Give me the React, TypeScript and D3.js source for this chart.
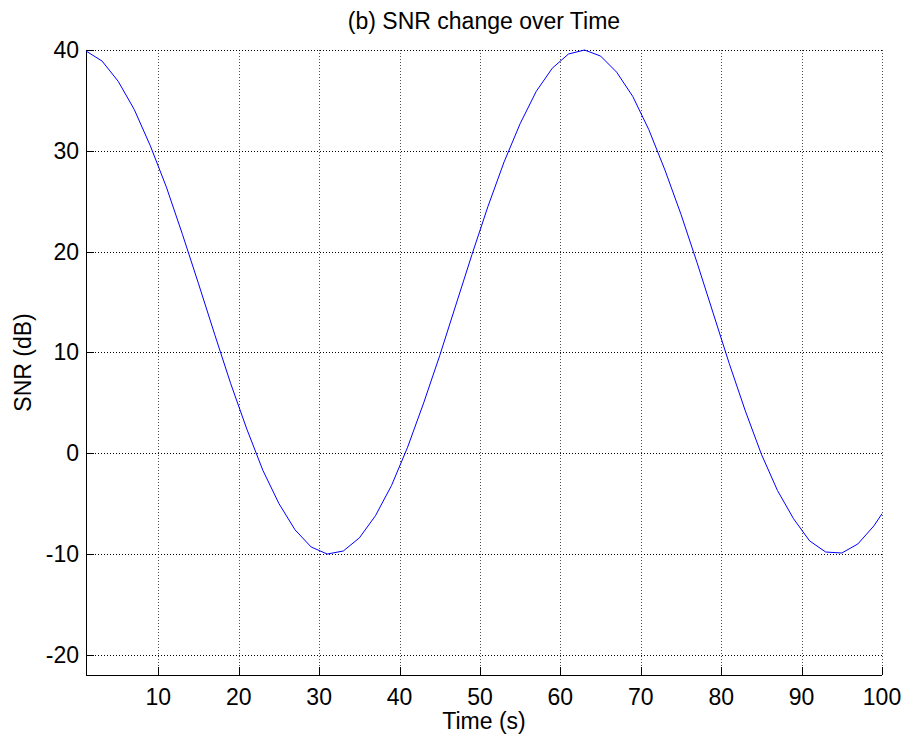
import React from "react";
import * as d3 from "d3";

// time samples (s) and SNR (dB)
const times = [1, 3, 5, 7, 9, 11, 13, 15, 17, 19, 21, 23, 25, 27, 29, 31, 33, 35, 37, 39,
    41, 43, 45, 47, 49, 51, 53, 55, 57, 59, 61, 63, 65, 67, 69, 71, 73, 75, 77, 79,
    81, 83, 85, 87, 89, 91, 93, 95, 97, 99, 100];
const snr = [39.9, 38.9, 36.9, 34.1, 30.5, 26.4, 21.7, 16.8, 11.8, 6.9, 2.4, -1.7, -5.0, -7.6, -9.3, -10.0, -9.7, -8.4, -6.2, -3.2,
    0.6, 5.0, 9.7, 14.7, 19.7, 24.5, 28.9, 32.7, 35.9, 38.2, 39.6, 40.0, 39.4, 37.8, 35.4, 32.1, 28.1, 23.7, 18.9, 13.9,
    8.9, 4.2, -0.1, -3.7, -6.5, -8.7, -9.8, -9.9, -9.0, -7.2, -6.0];

const xTicks = [10, 20, 30, 40, 50, 60, 70, 80, 90, 100];
const yTicks = [-20, -10, 0, 10, 20, 30, 40];

export default function App() {
    const width = 906, height = 743;
    const marginLeft = 86, marginRight = 24, marginTop = 50, marginBottom = 68;
    const font = "'Liberation Sans', Arial, Helvetica, sans-serif";
    const fs = 23;

    const x = d3.scaleLinear().domain([1, 100]).range([marginLeft, width - marginRight]);
    const y = d3.scaleLinear().domain([-22, 40]).range([height - marginBottom, marginTop]);

    const data = times.map((t, i) => ({t, v: snr[i]}));
    const line = d3.line<{t: number, v: number}>()
        .x(d => x(d.t))
        .y(d => y(d.v));

    const x0 = x.range()[0], x1 = x.range()[1];
    const y0 = y.range()[0], y1 = y.range()[1];

    return (
        <svg width={width} height={height} style={{position: "absolute", left: 0, top: 0, background: "#fff"}}
             fontFamily={font}>
            <rect x={0} y={0} width={width} height={height} fill="#fff"/>
            {/* grid */}
            <g stroke="#000" strokeWidth={1} strokeDasharray="1,2" shapeRendering="crispEdges">
                {xTicks.map(d => (
                    <line key={"gx" + d} x1={Math.round(x(d)) + 0.5} x2={Math.round(x(d)) + 0.5} y1={y1} y2={y0} strokeOpacity={0.7}/>
                ))}
                {yTicks.map(d => (
                    <line key={"gy" + d} x1={x0} x2={x1} y1={Math.round(y(d)) + 0.5} y2={Math.round(y(d)) + 0.5}/>
                ))}
            </g>
            {/* axes */}
            <g stroke="#000" strokeWidth={1} shapeRendering="crispEdges">
                <line x1={x0 + 0.5} x2={x0 + 0.5} y1={y1} y2={y0}/>
                <line x1={x0} x2={x1} y1={y0 + 0.5} y2={y0 + 0.5}/>
                {xTicks.map(d => (
                    <line key={"tx" + d} x1={Math.round(x(d)) + 0.5} x2={Math.round(x(d)) + 0.5} y1={y0} y2={y0 - 8}/>
                ))}
                {yTicks.map(d => (
                    <line key={"ty" + d} x1={x0} x2={x0 + 8} y1={Math.round(y(d)) + 0.5} y2={Math.round(y(d)) + 0.5}/>
                ))}
            </g>
            <path d={line(data) || ""} fill="none" stroke="#0000ff" strokeWidth={1}/>
            {/* tick labels */}
            <g fontSize={fs} fill="#000">
                {xTicks.map(d => (
                    <text key={"lx" + d} x={x(d)} y={y0 + 30} textAnchor="middle">{d}</text>
                ))}
                {yTicks.map(d => (
                    <text key={"ly" + d} x={x0 - 7} y={y(d) + 8} textAnchor="end">{d}</text>
                ))}
            </g>
            <text x={(x0 + x1) / 2} y={729} fontSize={fs} textAnchor="middle">Time (s)</text>
            <text transform={`translate(31,${(y0 + y1) / 2}) rotate(-90)`} fontSize={fs} textAnchor="middle">SNR (dB)</text>
            <text x={(x0 + x1) / 2} y={29} fontSize={fs} textAnchor="middle">(b) SNR change over Time</text>
        </svg>
    );
}
